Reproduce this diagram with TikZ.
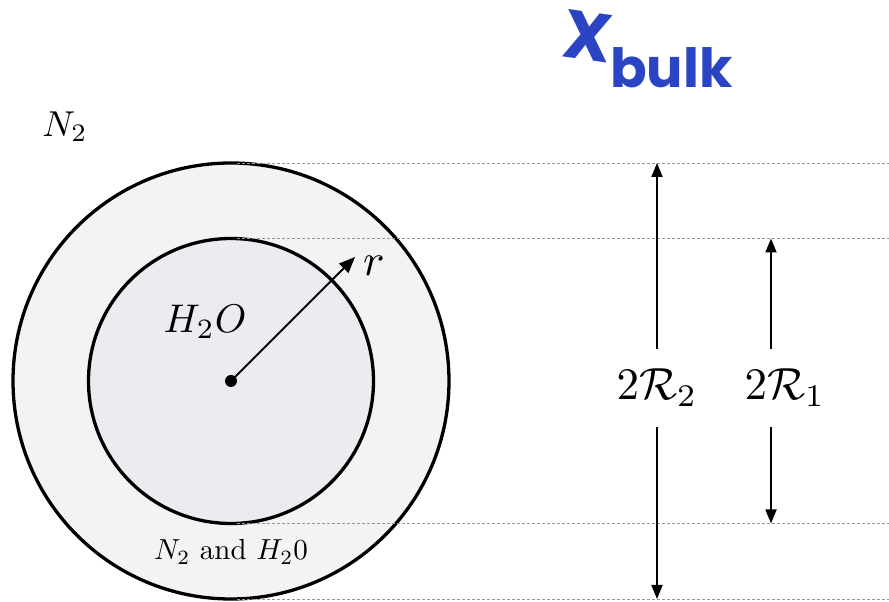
\RequirePackage{fix-cm}
\documentclass[tikz,border=0pt]{standalone}
\usepackage{fontspec}
\usepackage{graphicx}
\newfontfamily\handfont{Poppins}
\usetikzlibrary{arrows.meta}
\definecolor{outerfill}{RGB}{243,243,243}
\definecolor{innerfill}{RGB}{234,236,239}
\definecolor{handblue}{RGB}{43,68,196}
\definecolor{guidegray}{RGB}{150,150,150}
\begin{document}
\begin{tikzpicture}[x=1pt,y=1pt,
  ring/.style={line width=3.3pt},
  guide/.style={guidegray, line width=0.8pt, dash pattern=on 3pt off 2pt},
  dimarrow/.style={line width=1.8pt, -{Triangle[length=14pt,width=11pt]}},
  radarrow/.style={line width=2pt, -{Triangle[length=16pt,width=13pt]}},
  lbl/.style={inner sep=0pt},
  dimlbl/.style={inner xsep=0pt, inner ysep=20pt}]
\useasboundingbox (0,0) rectangle (889,602);
% circles
\coordinate (c) at (231,221);
\draw[ring, fill=outerfill] (c) circle[radius=218];
\draw[ring, fill=innerfill] (c) circle[radius=142.5];
% guide lines
\coordinate (g1a) at (237,439);   \coordinate (g1b) at (889,439);
\coordinate (g2a) at (237,363.5); \coordinate (g2b) at (889,363.5);
\coordinate (g3a) at (237,78.5);  \coordinate (g3b) at (889,78.5);
\coordinate (g4a) at (237,3);     \coordinate (g4b) at (889,3);
\draw[guide] (g1a) -- (g1b);
\draw[guide] (g2a) -- (g2b);
\draw[guide] (g3a) -- (g3b);
\draw[guide] (g4a) -- (g4b);
% radius
\coordinate (rt) at (355,345);
\draw[radarrow] (c) -- (rt);
\fill (c) circle[radius=6];
\node[lbl] (r) at (374,336) {\scalebox{4.5}{$r$}};
% labels
\node[lbl] (N2) at (65,475) {\scalebox{3.6}{$N_2$}};
\node[lbl] (H2O) at (205,280) {\scalebox{4.0}{$H_2O$}};
\node[lbl] (mix) at (231,50) {\scalebox{2.9}{$N_2$ and $H_2 0$}};
% dimension arrows
\node[dimlbl] (L2) at (657,214) {\scalebox{4.5}{$2\mathcal{R}_2$}};
\node[dimlbl] (L1) at (785,214) {\scalebox{4.5}{$2\mathcal{R}_1$}};
\coordinate (t2) at (657,439); \coordinate (b2) at (657,3);
\coordinate (t1) at (771,363.5); \coordinate (b1) at (771,78.5);
\draw[dimarrow] (L2.north) -- (t2);
\draw[dimarrow] (L2.south) -- (b2);
\draw[dimarrow] (L1.north -| t1) -- (t1);
\draw[dimarrow] (L1.south -| b1) -- (b1);
% handwritten note
\node[lbl, text=handblue, font=\handfont\bfseries\fontsize{68}{68}\selectfont, rotate=-8] (X) at (588,566) {X};
\node[lbl, anchor=base west, text=handblue, font=\handfont\bfseries\fontsize{54}{54}\selectfont] (bulk) at (610,514) {bulk};
\end{tikzpicture}
\end{document}
